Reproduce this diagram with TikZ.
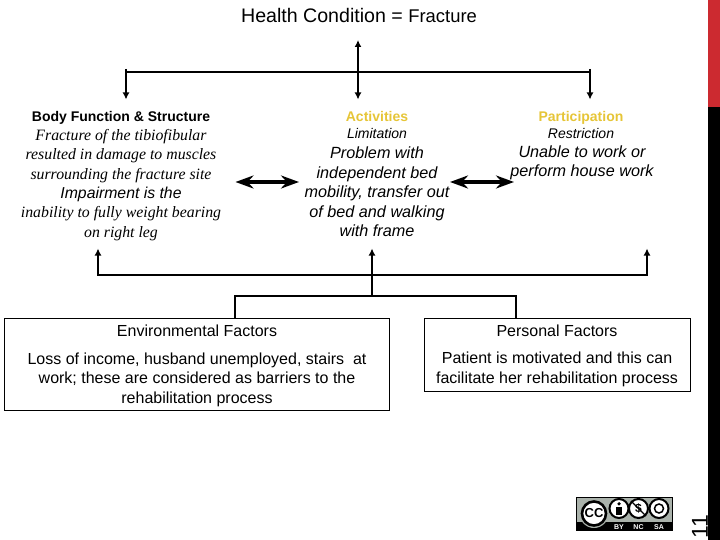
\documentclass[tikz,border=0pt]{standalone}
\usepackage{fontspec}
\setmainfont{Liberation Sans}
\newfontfamily\serifit{Liberation Serif}[ItalicFont=Liberation Serif Italic]
\usetikzlibrary{arrows.meta}
\definecolor{gold}{HTML}{E6C537}
\definecolor{barred}{HTML}{CC2A30}
\definecolor{ccgrey}{HTML}{AAB2AB}
\tikzset{
  x=1pt,y=-1pt,
  txt/.style={inner sep=0pt,align=center,anchor=center},
  conn/.style={line width=2pt,line cap=rect},
  thin conn/.style={line width=2pt},
  arr/.style={line width=2pt,-{Latex[length=7pt,width=7pt]}},
  dbl/.style={line width=2pt,{Latex[length=7pt,width=7pt]}-{Latex[length=7pt,width=7pt]}},
  wide/.style={line width=3.2pt,{Stealth[length=18pt,width=13pt]}-{Stealth[length=18pt,width=13pt]}},
  fbox/.style={draw,line width=0.8pt,inner sep=0pt,anchor=north west},
  head/.style={txt,anchor=base,font=\fontsize{14}{14}\selectfont\bfseries},
  sub/.style={txt,anchor=base,font=\fontsize{14}{14}\selectfont\itshape},
  body/.style={txt,font=\fontsize{16.2}{19.4}\selectfont\itshape},
  sbody/.style={txt,font=\fontsize{15.8}{19.4}\selectfont\serifit\itshape},
  plain/.style={txt,font=\fontsize{16}{19.5}\selectfont},
  ccring/.style={draw=black,line width=2pt,fill=white,circle,inner sep=0pt},
  cclabel/.style={txt,anchor=base,text=white,font=\fontsize{7}{7}\selectfont\bfseries},
}
\begin{document}
\begin{tikzpicture}
\useasboundingbox (0,0) rectangle (720,540);
\fill[barred] (708,0) rectangle (720,107);
\fill[black] (708,107) rectangle (720,540);
\node[txt,rotate=90,font=\fontsize{23}{23}\selectfont] (pagenum) at (700,527) {11};

% title
\node[txt,font=\fontsize{19.6}{19.6}\selectfont] (title) at (359,15) {Health Condition = {\fontsize{18.4}{18.4}\selectfont Fracture}};

% body texts
\node[head] (bfs) at (121,122) {Body Function \& Structure};
\node[sbody] (bfstext) at (121,185) {Fracture of the tibiofibular\\resulted in damage to muscles\\surrounding the fracture site\\{\fontfamily{\rmdefault}\selectfont Impairment is the}\\inability to fully weight bearing\\on right leg};
\node[head,text=gold] (act) at (377,122) {Activities};
\node[sub] (lim) at (377,138.5) {Limitation};
\node[body] (acttext) at (377,192) {Problem with\\independent bed\\mobility, transfer out\\of bed and walking\\with frame};
\node[head,text=gold] (part) at (581,122) {Participation};
\node[sub] (res) at (581,138.5) {Restriction};
\node[body] (parttext) at (582,163) {Unable to work or\\perform house work};

% factor boxes
\node[fbox,minimum width=385pt,minimum height=92.5pt] (env) at (4,317.5) {};
\node[fbox,minimum width=266pt,minimum height=73.5pt] (pers) at (424,317.5) {};
\node[plain] (envh) at (197,331) {Environmental Factors};
\node[plain] (envt) at (197,379.5) {Loss of income, husband unemployed, stairs~ at\\work; these are considered as barriers to the\\rehabilitation process};
\node[plain] (persh) at (557,331) {Personal Factors};
\node[plain] (perst) at (557,369.5) {Patient is motivated and this can\\facilitate her rehabilitation process};

% upper tree
\coordinate (tl) at (126,72);
\coordinate (tm) at (358,72);
\coordinate (tr) at (590,72);
\coordinate (tup) at (358,40);
\coordinate (dl) at (126,99.5);
\coordinate (dm) at (358,99.5);
\coordinate (dr) at (590,99.5);
\draw[thin conn] (tl) -- (tr);
\draw[arr] (126,69) -- (dl);
\draw[arr] (590,69) -- (dr);
\draw[dbl] (tup) -- (dm);

% lower tree
\coordinate (bl) at (98,275);
\coordinate (br) at (647,275);
\coordinate (ul) at (98,248.5);
\coordinate (um) at (372,248.5);
\coordinate (ur) at (647,248.5);
\coordinate (fl) at (235,296);
\coordinate (fr) at (516,296);
\coordinate (fm) at (372,296);
\draw[arr,line width=2.2pt] (bl) -- (ul);
\draw[arr,line width=2.2pt] (br) -- (ur);
\draw[arr,line width=2.2pt] (fm) -- (um);
\draw[conn] (bl) -- (br);
\draw[conn] (env.north -| fl) -- (fl) -- (fr) -- (pers.north -| fr);

% horizontal double arrows
\coordinate (a1) at (235.5,182);
\coordinate (a2) at (299,182);
\coordinate (a3) at (450,182);
\coordinate (a4) at (514,182);
\draw[wide] (a1) -- (a2);
\draw[wide] (a3) -- (a4);

% licence badge
\fill[black] (576,497) rectangle (673,531);
\fill[ccgrey] (577,498) rectangle (672,522);
\fill[ccgrey] (594,513.5) circle (14.5pt);
\node[ccring,minimum size=24pt,line width=2.6pt] (cc) at (594,513.5) {};
\node[txt,font=\fontsize{13}{13}\selectfont\bfseries] (cct) at (594,513.5) {CC};
\node[ccring,minimum size=19pt] (by) at (619,508.5) {};
\fill (619,503.8) circle (1.8pt);
\fill (616.2,506.5) rectangle (621.8,514.5);
\node[ccring,minimum size=19pt] (nc) at (638.5,508.5) {};
\node[txt,font=\fontsize{12}{12}\selectfont\bfseries] (nct) at (638.5,508.5) {\$};
\draw[line width=1.3pt] (nc.north west) -- (nc.south east);
\node[ccring,minimum size=19pt] (sa) at (659,508.5) {};
\draw[line width=1.5pt] (659,508.5) circle (4.5pt);
\node[cclabel] (byt) at (619,529.5) {BY};
\node[cclabel] (nctx) at (638.5,529.5) {NC};
\node[cclabel] (sat) at (659,529.5) {SA};
\end{tikzpicture}
\end{document}
